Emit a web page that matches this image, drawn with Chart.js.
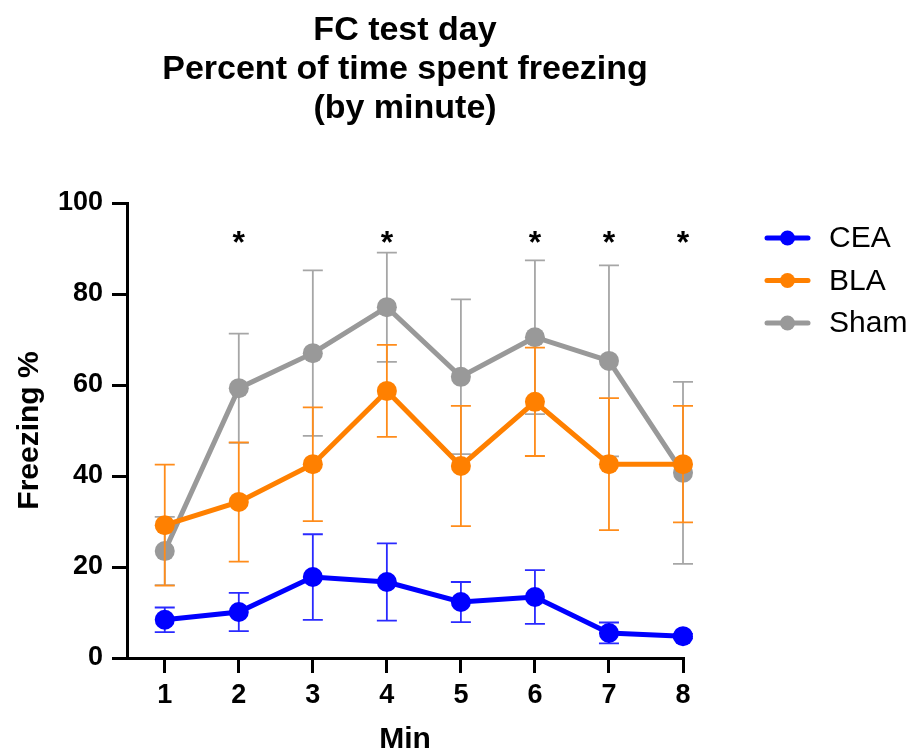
<!DOCTYPE html>
<html>
<head>
<meta charset="utf-8">
<title>FC test day</title>
<script src="https://cdn.jsdelivr.net/npm/chart.js@4.4.1/dist/chart.umd.min.js"></script>
<style>
    html, body { margin: 0; padding: 0; background: #fff; }
    #freezeChart { display: block; }
</style>
</head>
<body>
<canvas id="freezeChart" width="911" height="753"></canvas>
<script>
// Data (mean and SEM per minute)
const minutes = [1, 2, 3, 4, 5, 6, 7, 8];
const seriesNames = ['CEA', 'BLA', 'Sham'];

const ceaMean = [8.4, 10.1, 17.8, 16.7, 12.3, 13.4, 5.5, 4.8];
const ceaSem = [2.7, 4.2, 9.4, 8.5, 4.4, 5.9, 2.3, 0.5];

const blaMean = [29.2, 34.3, 42.6, 58.7, 42.2, 56.3, 42.6, 42.6];
const blaSem = [13.3, 13.1, 12.5, 10.1, 13.2, 11.9, 14.5, 12.8];

const shamMean = [23.5, 59.3, 67.0, 77.1, 61.8, 70.5, 65.3, 40.7];
const shamSem = [7.5, 12.0, 18.2, 12.0, 17.0, 16.9, 21.0, 20.0];

const yTicks = [0, 20, 40, 60, 80, 100];
const starMinutes = [2, 4, 6, 7, 8];
const starLevel = 92.5;

const titleLines = ['FC test day', 'Percent of time spent freezing', '(by minute)'];

const FONT = '"Liberation Sans", Arial, Helvetica, sans-serif';
const colors = ['#0000ff', '#ff8000', '#999999'];
const barColors = ['#2a2aff', '#ff8c1a', '#a6a6a6'];

function toPoints(means) {
    return minutes.map((m, i) => ({ x: m, y: means[i] }));
}

function makeDataset(i, means, sems) {
    return {
        label: seriesNames[i],
        data: toPoints(means),
        sem: sems,
        borderColor: colors[i],
        backgroundColor: colors[i],
        pointBackgroundColor: colors[i],
        pointBorderColor: colors[i],
        pointBorderWidth: 0,
        pointRadius: 10,
        borderWidth: 5,
        tension: 0,
        clip: false,
        errColor: barColors[i]
    };
}

// Error bars, drawn just before each dataset's line
const errorBars = {
    id: 'errorBars',
    beforeDatasetDraw(chart, args) {
        const ds = chart.data.datasets[args.index];
        const xs = chart.scales.x, ys = chart.scales.y;
        const ctx = chart.ctx;
        ctx.save();
        ctx.strokeStyle = ds.errColor;
        ctx.lineWidth = 1.8;
        ds.data.forEach((p, i) => {
            const px = xs.getPixelForValue(p.x);
            const top = ys.getPixelForValue(p.y + ds.sem[i]);
            const bot = ys.getPixelForValue(p.y - ds.sem[i]);
            ctx.beginPath();
            ctx.moveTo(px, top); ctx.lineTo(px, bot);
            ctx.moveTo(px - 10, top); ctx.lineTo(px + 10, top);
            ctx.moveTo(px - 10, bot); ctx.lineTo(px + 10, bot);
            ctx.stroke();
        });
        ctx.restore();
    }
};

// Title, significance stars and legend
const decorations = {
    id: 'decorations',
    afterDraw(chart) {
        const ctx = chart.ctx;
        const area = chart.chartArea;
        const xs = chart.scales.x, ys = chart.scales.y;
        ctx.save();

        // title
        ctx.fillStyle = '#000';
        ctx.font = 'bold 34px ' + FONT;
        ctx.textAlign = 'center';
        ctx.textBaseline = 'alphabetic';
        const cx = (area.left + area.right) / 2;
        titleLines.forEach((line, i) => ctx.fillText(line, cx, 40 + i * 39));

        // stars
        ctx.font = 'bold 32px ' + FONT;
        ctx.textBaseline = 'middle';
        starMinutes.forEach(m => {
            ctx.fillText('*', xs.getPixelForValue(m), ys.getPixelForValue(starLevel) + 7);
        });

        // legend
        ctx.textAlign = 'left';
        ctx.font = '30px ' + FONT;
        chart.data.datasets.forEach((ds, i) => {
            const y = 238 + i * 42.5;
            ctx.strokeStyle = ds.borderColor;
            ctx.lineWidth = 5;
            ctx.lineCap = 'round';
            ctx.beginPath();
            ctx.moveTo(767, y); ctx.lineTo(808, y);
            ctx.stroke();
            ctx.fillStyle = ds.borderColor;
            ctx.beginPath();
            ctx.arc(787.5, y, 7.5, 0, Math.PI * 2);
            ctx.fill();
            ctx.fillStyle = '#000';
            ctx.fillText(ds.label, 829, y + 1);
        });
        ctx.restore();
    }
};

const ctx = document.getElementById('freezeChart').getContext('2d');
const chart = new Chart(ctx, {
    type: 'line',
    data: {
        datasets: [
            makeDataset(0, ceaMean, ceaSem),
            makeDataset(1, blaMean, blaSem),
            makeDataset(2, shamMean, shamSem)
        ]
    },
    options: {
        responsive: false,
        animation: false,
        layout: { padding: { top: 203, left: 0, right: 228, bottom: 0 } },
        plugins: {
            legend: { display: false },
            title: { display: false },
            tooltip: { enabled: false }
        },
        scales: {
            x: {
                type: 'linear',
                min: 0.49,
                max: 8,
                afterBuildTicks: scale => { scale.ticks = minutes.map(v => ({ value: v })); },
                afterFit: scale => { scale.height = 95; },
                grid: { drawOnChartArea: false, drawTicks: true, tickLength: 15, color: '#000', lineWidth: 3 },
                border: { display: true, color: '#000', width: 3 },
                ticks: {
                    color: '#000',
                    padding: 6,
                    font: { family: FONT, size: 27, weight: 'bold' }
                },
                title: {
                    display: true,
                    text: 'Min',
                    color: '#000',
                    padding: { top: 0, bottom: 0 },
                    font: { family: FONT, size: 30, weight: 'bold', lineHeight: 0.86 }
                }
            },
            y: {
                min: 0,
                max: 100,
                afterBuildTicks: scale => { scale.ticks = yTicks.map(v => ({ value: v })); },
                afterFit: scale => { scale.width = 127; },
                grid: { drawOnChartArea: false, drawTicks: true, tickLength: 15, color: '#000', lineWidth: 3 },
                border: { display: true, color: '#000', width: 3 },
                ticks: {
                    color: '#000',
                    padding: 9,
                    font: { family: FONT, size: 27, weight: 'bold' }
                },
                title: {
                    display: true,
                    text: 'Freezing %',
                    color: '#000',
                    padding: { top: 15, bottom: 0 },
                    font: { family: FONT, size: 30, weight: 'bold', lineHeight: 1 }
                }
            }
        }
    },
    plugins: [errorBars, decorations]
});
</script>
</body>
</html>
